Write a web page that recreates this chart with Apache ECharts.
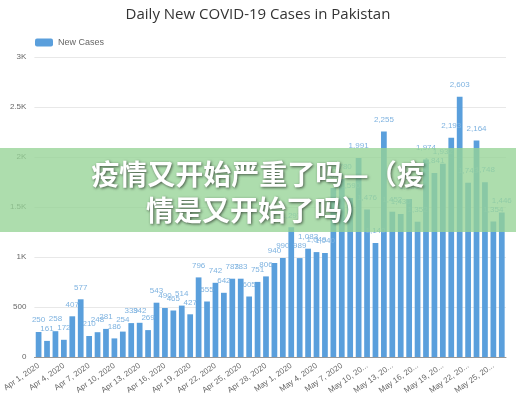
<!DOCTYPE html>
<html><head><meta charset="utf-8">
<script src="https://cdn.jsdelivr.net/npm/echarts@6/dist/echarts.min.js"></script>
<style>html,body{margin:0;padding:0;background:#fff}#c{width:516px;height:400px}</style>
</head><body><div id="c"></div>
<script>
const categories = (function(){const a=[];for(let d=1;d<=30;d++)a.push('Apr '+d+', 2020');for(let d=1;d<=26;d++)a.push('May '+d+', 2020');return a;})();
const newCases = [250,161,258,172,407,577,210,248,281,186,254,339,342,269,543,490,465,514,427,796,555,742,642,783,783,605,751,806,940,990,
1297,989,1083,1049,1040,1690,1780,1590,1991,1476,1140,2255,1452,1430,1580,1352,1974,1841,1932,2193,2603,1743,2164,1748,1354,1446];
const yTicks = [0,500,1000,1500,2000,2500,3000];
const chart = echarts.init(document.getElementById('c'));
chart.setOption({
  animation:false,
  title:{text:'Daily New COVID-19 Cases in Pakistan',left:'center',top:2,textStyle:{fontSize:15,fontWeight:'normal',color:'#333',fontFamily:'Open Sans'}},
  legend:{left:30,top:33,itemWidth:18,itemHeight:8,textStyle:{fontSize:9,color:'#666'},data:['New Cases']},
  grid:{left:30,right:10,top:57,bottom:43},
  xAxis:{type:'category',data:categories,axisTick:{show:false},axisLine:{lineStyle:{color:'#999'}},
    axisLabel:{interval:2,rotate:35,fontSize:8,color:'#666',width:48,overflow:'truncate'}},
  yAxis:{type:'value',min:0,max:3000,interval:500,
    axisLabel:{fontSize:8,color:'#666',formatter:v=>v>=1000?(v/1000)+'K':v},
    splitLine:{lineStyle:{color:'#e8e8e8'}}},
  series:[{name:'New Cases',type:'bar',data:newCases,barWidth:'68%',itemStyle:{color:'#5a9fdc'},
    label:{show:true,position:'top',fontSize:8,color:'#7fb3e0',distance:8,formatter:p=>p.value.toLocaleString('en-US')}}],
  graphic:[
    {type:'rect',left:0,top:148,shape:{width:516,height:84},style:{fill:'rgba(150,212,150,0.78)'},z:100},
    {type:'text',left:'center',top:160,style:{text:'疫情又开始严重了吗—（疫',fontSize:28,fontWeight:'bold',fill:'#fff',fontFamily:'Noto Sans CJK SC',textShadowColor:'rgba(0,0,0,0.6)',textShadowBlur:3,textShadowOffsetX:1,textShadowOffsetY:1},z:101},
    {type:'text',left:'center',top:196,style:{text:'情是又开始了吗）',fontSize:28,fontWeight:'bold',fill:'#fff',fontFamily:'Noto Sans CJK SC',textShadowColor:'rgba(0,0,0,0.6)',textShadowBlur:3,textShadowOffsetX:1,textShadowOffsetY:1},z:101}
  ]
});
</script></body></html>
